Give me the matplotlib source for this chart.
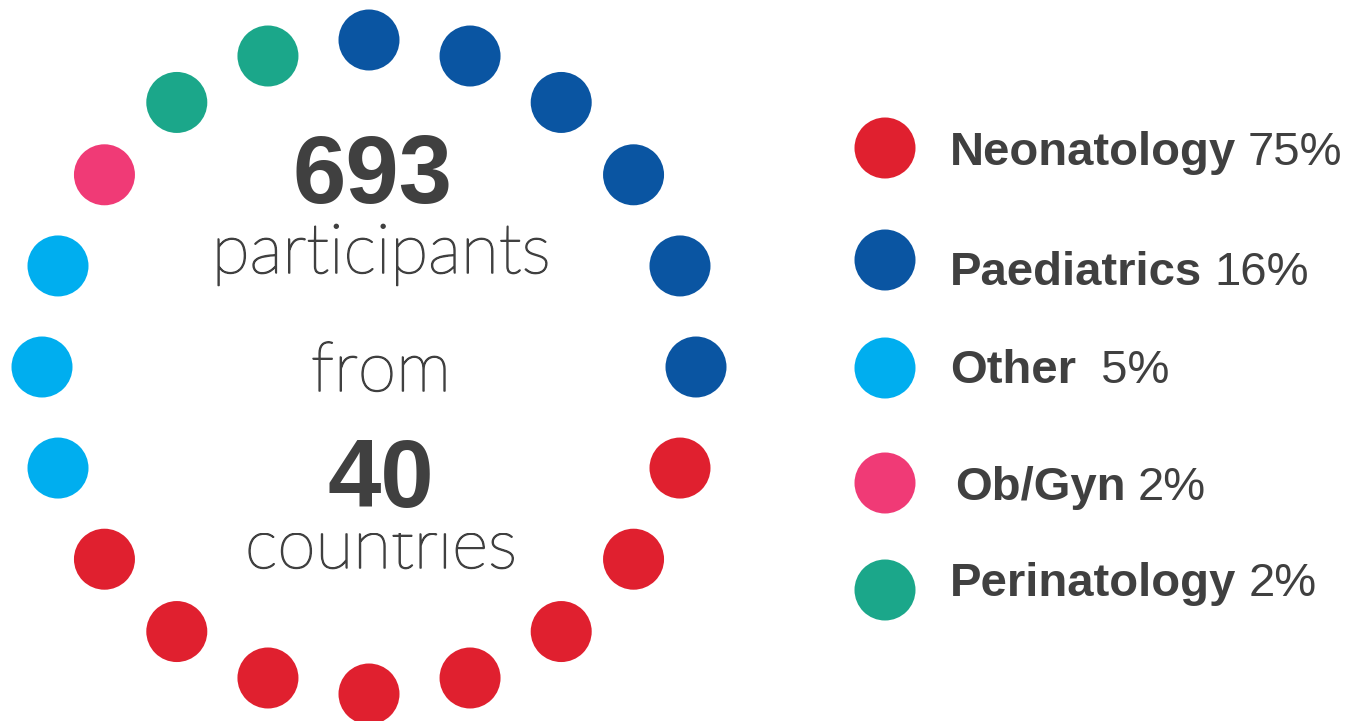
import matplotlib
matplotlib.use("Agg")
import matplotlib.pyplot as plt
import matplotlib.patheffects as pe
import numpy as np
from matplotlib.patches import Circle, Rectangle

# data
categories = ["Neonatology", "Paediatrics", "Other", "Ob/Gyn", "Perinatology"]
shares = ["75%", "16%", " 5%", "2%", "2%"]
colors = ["#E0202F", "#0A55A2", "#00AEEF", "#F03A76", "#1BA78A"]
# dots around the ring, clockwise from the top
ring_order = ["Paediatrics"] * 6 + ["Neonatology"] * 8 + ["Other"] * 3 + ["Ob/Gyn"] + ["Perinatology"] * 2
n_participants = "693"
n_countries = "40"

TXT = "#404040"
W, H = 1353, 721
fig = plt.figure(figsize=(W / 100, H / 100), dpi=100)
ax = fig.add_axes([0, 0, 1, 1])
ax.set_xlim(0, W)
ax.set_ylim(H, 0)
ax.set_aspect("equal")
ax.axis("off")

col = dict(zip(categories, colors))

# ring of dots
cx, cy, R, r = 369, 367, 327, 30.5
angles = np.deg2rad(90 - 18 * np.arange(len(ring_order)))
for a, cat in zip(angles, ring_order):
    ax.add_patch(Circle((cx + R * np.cos(a), cy - R * np.sin(a)), r, color=col[cat], lw=0))

# centre text
ax.text(372, 203, n_participants, ha="center", va="baseline", fontsize=69,
        fontweight="bold", family="Liberation Sans", color=TXT, zorder=5)
# light face is a touch too thin, so give it a hairline stroke
light = dict(ha="center", va="baseline", fontsize=50, family="Lato",
             fontweight="light", color=TXT,
             path_effects=[pe.withStroke(linewidth=1.1, foreground=TXT)])
ax.text(381, 273, "participants", **light)
ax.text(381, 391, "from", **light)
ax.text(381, 568, "countries", **light, zorder=2)
# the top of "countries" is hidden behind the "40" block
ax.add_patch(Rectangle((235, 505), 300, 28, color="white", lw=0, zorder=3))
ax.text(381, 507, n_countries, ha="center", va="baseline", fontsize=69,
        fontweight="bold", family="Liberation Sans", color=TXT, zorder=5)

# legend
leg_y = [148, 260, 368, 483, 590]
txt_y = [165, 285, 383, 500, 596]
txt_x = [950, 950, 950, 955, 950]
fig.canvas.draw()
rend = fig.canvas.get_renderer()
for cat, pct, c, y, ty, tx in zip(categories, shares, colors, leg_y, txt_y, txt_x):
    ax.add_patch(Circle((885, y), 30.5, color=c, lw=0))
    t = ax.text(tx, ty, cat, ha="left", va="baseline", fontsize=34,
                fontweight="bold", family="Liberation Sans", color=TXT)
    bb = t.get_window_extent(rend)
    x_end = ax.transData.inverted().transform((bb.x1, 0))[0]
    ax.text(x_end + 12, ty, pct, ha="left", va="baseline", fontsize=34,
            family="Liberation Sans", color=TXT)

fig.savefig("out.png", dpi=100, facecolor="white")
